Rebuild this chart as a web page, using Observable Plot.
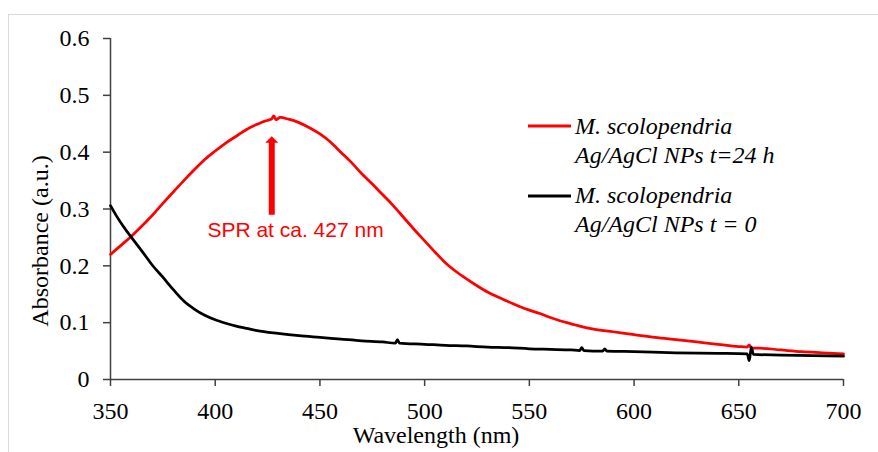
<!DOCTYPE html>
<html><head><meta charset="utf-8">
<script src="https://cdn.jsdelivr.net/npm/d3@7"></script>
<script src="https://cdn.jsdelivr.net/npm/@observablehq/plot@0.6"></script>
<style>
html,body{margin:0;padding:0;background:#fff;}
#wrap{position:relative;width:878px;height:452px;overflow:hidden;}
#wrap svg{position:absolute;left:0;top:0;}
#border{position:absolute;left:8px;top:14px;width:900px;height:500px;border-top:1.5px solid #d9d9d9;border-left:1.5px solid #d9d9d9;pointer-events:none;}
</style></head><body><div id="wrap"></div>
<script>
// Series: M. scolopendria Ag/AgCl NPs t=24 h (red)
const redWl = [350,355,360,365,370,375,380,385,390,395,400,405,410,415,420,424,426,427,428,429,431,435,440,445,450,455,460,465,470,475,480,485,490,495,500,505,510,515,520,525,530,535,540,545,550,555,560,565,570,575,580,590,600,610,620,630,640,650,654,655,656,660,670,680,690,700];
const redAbs = [0.220,0.236,0.252,0.270,0.289,0.310,0.330,0.350,0.369,0.387,0.402,0.416,0.428,0.440,0.449,0.455,0.457,0.459,0.464,0.457,0.461,0.458,0.452,0.443,0.432,0.418,0.400,0.382,0.362,0.344,0.325,0.306,0.285,0.264,0.244,0.224,0.205,0.190,0.177,0.165,0.154,0.145,0.137,0.129,0.122,0.116,0.109,0.103,0.098,0.093,0.089,0.084,0.079,0.074,0.070,0.066,0.062,0.058,0.057,0.061,0.055,0.055,0.052,0.049,0.047,0.045];
// Series: M. scolopendria Ag/AgCl NPs t = 0 (black)
const blackWl = [350,353,356,360,365,370,375,380,385,390,395,400,405,410,415,420,430,440,450,460,470,480,486,487,488,500,510,520,530,540,550,560,570,574,575,576,585,586,587,600,620,640,654,655,656,657,670,685,700];
const blackAbs = [0.306,0.287,0.270,0.250,0.226,0.201,0.180,0.158,0.138,0.124,0.113,0.105,0.099,0.094,0.090,0.086,0.081,0.077,0.074,0.071,0.068,0.066,0.064,0.070,0.064,0.062,0.060,0.059,0.057,0.056,0.054,0.053,0.052,0.051,0.056,0.051,0.050,0.054,0.050,0.049,0.047,0.046,0.045,0.033,0.057,0.044,0.043,0.042,0.041];

const xTicks = [350,400,450,500,550,600,650,700];
const xTickLabels = ["350","400","450","500","550","600","650","700"];
const yTicks = [0,0.1,0.2,0.3,0.4,0.5,0.6];
const yTickLabels = ["0","0.1","0.2","0.3","0.4","0.5","0.6"];

const seriesNames = ["M. scolopendria", "Ag/AgCl NPs t=24 h", "M. scolopendria", "Ag/AgCl NPs t = 0"];
const xTitle = "Wavelength (nm)";
const yTitle = "Absorbance (a.u.)";
const annoText = "SPR at ca. 427 nm";
const annoWl = [427];
const annoFrom = [0.289];
const annoTo = [0.4175];
const annoTip = [0.428];

const SERIF = "'Liberation Serif', 'Times New Roman', Times, serif";
const SANS = "'Liberation Sans', Arial, Helvetica, sans-serif";

const redData = redWl.map((w, i) => ({w, a: redAbs[i]}));
const blackData = blackWl.map((w, i) => ({w, a: blackAbs[i]}));
const arrowData = annoWl.map((w, i) => ({w, y1: annoFrom[i], y2: annoTo[i], tip: annoTip[i]}));

const headSymbol = {
  draw(ctx) {
    ctx.moveTo(0, 0);
    ctx.lineTo(-6.5, 6.5);
    ctx.lineTo(6.5, 6.5);
    ctx.closePath();
  }
};

const axisColor = "#404040";
const chart = Plot.plot({
  width: 878,
  height: 452,
  marginLeft: 110,
  marginRight: 35,
  marginTop: 38,
  marginBottom: 73,
  style: {fontFamily: SERIF, fontSize: "24px", background: "transparent", color: "#000"},
  x: {domain: [350, 700]},
  y: {domain: [0, 0.6]},
  marks: [
    Plot.axisX({ticks: xTicks, tickSize: 7, tickPadding: 15, stroke: axisColor, strokeWidth: 1.5, fontSize: 24, fill: "#000", label: null,
      tickFormat: d => xTickLabels[xTicks.indexOf(d)]}),
    Plot.axisY({ticks: yTicks, tickSize: 7, tickPadding: 14, stroke: axisColor, strokeWidth: 1.5, fontSize: 24, fill: "#000", label: null,
      tickFormat: d => yTickLabels[yTicks.indexOf(d)]}),
    Plot.ruleY([0], {stroke: axisColor, strokeWidth: 1.5}),
    Plot.ruleX([350], {stroke: axisColor, strokeWidth: 1.5}),
    Plot.line(redData, {x: "w", y: "a", stroke: "#ff0000", strokeWidth: 2.75, curve: "monotone-x"}),
    Plot.line(blackData, {x: "w", y: "a", stroke: "#000000", strokeWidth: 2.75, curve: "monotone-x"}),
    Plot.ruleX(arrowData, {x: "w", y1: "y1", y2: "y2", stroke: "#ff0000", strokeWidth: 6}),
    Plot.dot(arrowData, {x: "w", y: "tip", symbol: headSymbol, fill: "#ff0000", stroke: "none"})
  ]
});

const wrap = document.getElementById("wrap");
wrap.appendChild(chart);
const border = document.createElement("div");
border.id = "border";
wrap.appendChild(border);

const svg = d3.select(chart);
// force serif on all Plot-generated text
svg.selectAll("text").style("font-family", SERIF).style("font-size", "24px");

const sx = chart.scale("x"), sy = chart.scale("y");
// annotation text
svg.append("text").attr("x", sx.apply(396.5)).attr("y", sy.apply(0.2505))
  .style("font-family", SANS).style("font-size", "21px").style("text-anchor", "start")
  .attr("fill", "#ff0000").text(annoText);

// axis titles
svg.append("text").attr("x", 436).attr("y", 443)
  .style("font-family", SERIF).style("font-size", "24px").style("text-anchor", "middle")
  .attr("fill", "#000").text(xTitle);
svg.append("text").attr("transform", "translate(48,241) rotate(-90)")
  .style("font-family", SERIF).style("font-size", "24px").style("text-anchor", "middle")
  .attr("fill", "#000").text(yTitle);

// legend
const legendColors = ["#ff0000", "#000000"];
const legendLineY = [126, 196];
const legendTextY = [[134, 163], [203, 232]];
legendColors.forEach((c, i) => {
  svg.append("line").attr("x1", 528).attr("x2", 571).attr("y1", legendLineY[i]).attr("y2", legendLineY[i])
    .attr("stroke", c).attr("stroke-width", 3);
  [0, 1].forEach(j => {
    svg.append("text").attr("x", 575).attr("y", legendTextY[i][j])
      .style("font-family", SERIF).style("font-size", "24px").style("font-style", "italic").style("text-anchor", "start")
      .attr("fill", "#000").text(seriesNames[i * 2 + j]);
  });
});
</script>
</body></html>
